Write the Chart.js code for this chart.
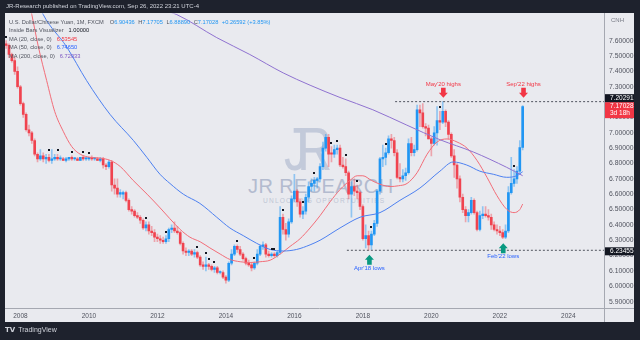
<!DOCTYPE html>
<html>
<head>
<meta charset="utf-8">
<script src="https://cdn.jsdelivr.net/npm/chart.js@4.4.1/dist/chart.umd.min.js"></script>
<style>
 html,body{margin:0;padding:0;width:640px;height:340px;overflow:hidden;background:#1e222d;font-family:"Liberation Sans",Arial,sans-serif;}
 #panel{position:absolute;left:5px;top:13px;width:629px;height:309px;background:#e9eaef;}
 .wm{position:absolute;white-space:nowrap;}
 #wmLogo{left:284px;top:113px;font:62px "Liberation Sans",sans-serif;color:#c3cada;letter-spacing:-14px;transform:scaleX(0.78);transform-origin:left top;}
 #wmName{left:248px;top:175px;font:20px "Liberation Sans",sans-serif;color:#b3bbcf;letter-spacing:0.4px;}
 #wmTag{left:263px;top:197px;font:6.6px "Liberation Sans",sans-serif;color:#c0c6d5;letter-spacing:1.2px;}
 #c{position:absolute;left:0;top:0;}
 #hdr{position:absolute;left:6px;top:3px;font-size:6px;color:#d1d4dc;white-space:nowrap;}
 #legend{position:absolute;left:9px;top:17.5px;font-size:5.7px;line-height:8.5px;color:#50535e;white-space:nowrap;}
 #legend .v{margin-left:3.5px;}
 #ftr{position:absolute;left:5px;top:326px;font-size:7px;color:#d1d4dc;white-space:nowrap;}
 #ftr b{font-family:"DejaVu Sans",sans-serif;font-size:7px;margin-right:3px;}
</style>
</head>
<body>
<div id="panel"></div>
<div class="wm" id="wmLogo">JR</div>
<div class="wm" id="wmName">JR RESEARCH</div>
<div class="wm" id="wmTag">UNLOCKING OPPORTUNITIES</div>
<canvas id="c" width="640" height="340"></canvas>
<div id="hdr">JR-Research published on TradingView.com, Sep 26, 2022 23:21 UTC-4</div>
<div id="legend"></div>
<div id="ftr"><b>TV</b>TradingView</div>
<script>
// ---------- DATA ----------
const firstMonthIndex = -5; // Aug 2007 (0 = Jan 2008)
const opens = [
 7.58,7.57,7.51,7.47,7.40,
 7.30,7.19,7.12,7.02,7.00,6.95,6.86,6.83,6.85,6.83,6.84,6.82,
 6.83,6.84,6.83,6.83,6.82,6.83,6.84,6.83,6.83,6.82,6.84,6.83,
 6.83,6.84,6.83,6.83,6.82,6.83,6.79,6.78,6.81,6.66,6.64,6.60,
 6.60,6.61,6.56,6.50,6.49,6.46,6.45,6.43,6.38,6.40,6.36,6.35,
 6.32,6.31,6.30,6.29,6.31,6.37,6.38,6.36,6.35,6.28,6.23,6.22,
 6.23,6.21,6.22,6.19,6.14,6.13,6.14,6.13,6.11,6.12,6.09,6.09,
 6.06,6.04,6.15,6.21,6.26,6.24,6.21,6.18,6.15,6.14,6.12,6.15,
 6.21,6.26,6.27,6.21,6.20,6.21,6.20,6.22,6.45,6.37,6.34,6.42,
 6.57,6.62,6.55,6.47,6.49,6.58,6.65,6.67,6.69,6.70,6.78,6.90,
 6.97,6.87,6.86,6.89,6.90,6.79,6.78,6.74,6.60,6.65,6.62,6.61,
 6.52,6.31,6.33,6.27,6.34,6.41,6.62,6.83,6.84,6.87,6.96,6.95,
 6.87,6.71,6.70,6.72,6.74,6.93,6.87,6.89,7.15,7.13,7.04,7.03,
 6.96,6.93,7.00,7.08,7.07,7.14,7.07,6.99,6.85,6.79,6.70,6.58,
 6.50,6.46,6.48,6.56,6.48,6.37,6.46,6.47,6.46,6.45,6.40,6.37,
 6.36,6.35,6.32,6.36,6.61,6.67,6.70,6.75,6.90436
];
const highs = [
 7.60,7.58,7.52,7.49,7.43,
 7.31,7.20,7.13,7.05,7.01,6.96,6.87,6.89,6.87,6.86,6.86,6.89,
 6.86,6.86,6.85,6.84,6.84,6.84,6.85,6.84,6.84,6.84,6.85,6.84,
 6.84,6.85,6.84,6.84,6.84,6.84,6.80,6.82,6.82,6.70,6.70,6.63,
 6.62,6.62,6.57,6.52,6.50,6.48,6.46,6.44,6.42,6.42,6.39,6.37,
 6.34,6.33,6.32,6.33,6.38,6.40,6.42,6.39,6.36,6.29,6.25,6.24,
 6.24,6.24,6.23,6.20,6.16,6.19,6.15,6.14,6.13,6.13,6.10,6.10,
 6.07,6.16,6.24,6.27,6.27,6.26,6.22,6.19,6.17,6.15,6.16,6.24,
 6.27,6.29,6.28,6.23,6.22,6.22,6.23,6.52,6.47,6.41,6.44,6.59,
 6.73,6.63,6.57,6.52,6.60,6.68,6.70,6.71,6.71,6.80,6.94,6.99,
 6.99,6.91,6.92,6.92,6.92,6.84,6.83,6.75,6.68,6.70,6.66,6.62,
 6.53,6.40,6.36,6.36,6.43,6.63,6.84,6.92,6.90,6.98,6.99,6.97,
 6.89,6.80,6.76,6.77,6.96,6.97,6.92,7.18,7.18,7.19,7.06,7.05,
 6.97,7.04,7.17,7.14,7.20291,7.15,7.08,7.00,6.89,6.80,6.72,6.60,
 6.52,6.50,6.58,6.57,6.49,6.49,6.52,6.52,6.50,6.47,6.42,6.40,
 6.39,6.37,6.40,6.65,6.84,6.76,6.78,6.95,7.17705
];
const lows = [
 7.55,7.49,7.46,7.38,7.29,
 7.18,7.10,7.01,6.98,6.93,6.85,6.81,6.82,6.81,6.80,6.81,6.80,
 6.82,6.82,6.82,6.82,6.81,6.82,6.82,6.82,6.82,6.82,6.82,6.82,
 6.82,6.82,6.82,6.82,6.81,6.77,6.76,6.77,6.62,6.60,6.58,6.58,
 6.57,6.55,6.49,6.47,6.45,6.44,6.41,6.37,6.36,6.34,6.33,6.29,
 6.29,6.28,6.28,6.28,6.29,6.35,6.35,6.34,6.27,6.21,6.20,6.20,
 6.20,6.19,6.18,6.13,6.11,6.10,6.11,6.10,6.09,6.08,6.08,6.05,
 6.02,6.03,6.14,6.20,6.22,6.20,6.17,6.14,6.13,6.10,6.11,6.14,
 6.20,6.24,6.19,6.19,6.19,6.19,6.19,6.21,6.34,6.30,6.32,6.41,
 6.55,6.52,6.45,6.44,6.47,6.55,6.62,6.62,6.64,6.68,6.76,6.88,
 6.78,6.81,6.84,6.86,6.78,6.77,6.72,6.57,6.45,6.59,6.57,6.50,
 6.30,6.25,6.23455,6.24,6.33,6.39,6.60,6.78,6.79,6.86,6.90,6.85,
 6.70,6.68,6.68,6.69,6.73,6.85,6.85,6.88,7.04,7.03,6.98,6.96,
 6.85,6.92,6.92,7.02,7.06,7.04,6.96,6.84,6.71,6.64,6.55,6.48,
 6.42,6.42,6.47,6.47,6.36,6.36,6.44,6.45,6.43,6.37,6.36,6.34,
 6.33,6.31,6.31,6.35,6.60,6.65,6.67,6.73,6.88890
];
const closes = [
 7.57,7.51,7.47,7.40,7.30,
 7.19,7.12,7.02,7.00,6.95,6.86,6.83,6.85,6.83,6.84,6.82,6.83,
 6.84,6.83,6.83,6.82,6.83,6.84,6.83,6.83,6.82,6.84,6.83,6.83,
 6.84,6.83,6.83,6.82,6.83,6.79,6.78,6.81,6.66,6.64,6.60,6.61,
 6.61,6.56,6.50,6.49,6.46,6.45,6.43,6.38,6.40,6.36,6.35,6.32,
 6.31,6.30,6.29,6.31,6.37,6.38,6.36,6.35,6.28,6.23,6.22,6.23,
 6.21,6.22,6.19,6.14,6.13,6.14,6.13,6.11,6.12,6.09,6.09,6.06,
 6.04,6.15,6.21,6.26,6.24,6.21,6.18,6.15,6.14,6.12,6.15,6.21,
 6.26,6.27,6.21,6.20,6.21,6.20,6.22,6.45,6.37,6.34,6.42,6.57,
 6.62,6.55,6.47,6.49,6.58,6.65,6.67,6.69,6.70,6.78,6.90,6.97,
 6.86,6.86,6.89,6.90,6.79,6.78,6.74,6.60,6.65,6.62,6.61,6.52,
 6.31,6.33,6.27,6.34,6.41,6.62,6.83,6.84,6.87,6.96,6.95,6.87,
 6.71,6.70,6.72,6.74,6.93,6.87,6.89,7.15,7.13,7.04,7.03,6.96,
 6.93,7.00,7.08,7.07,7.14,7.07,6.99,6.85,6.79,6.70,6.58,6.50,
 6.46,6.48,6.56,6.48,6.37,6.46,6.47,6.46,6.45,6.40,6.37,6.36,
 6.35,6.32,6.36,6.61,6.67,6.70,6.75,6.90436,7.17028
];
// moving averages (month index, value)
const ma20Months = [3,4,6.3,9.2,12,15,18,21,24.5,28,31.5,35,39.5,44.4,49,52.4,56,59.4,63,66.4,70,73.4,77,80.5,84,87.5,91,94.5,98,101.5,105,108.5,112,115.5,118,120,123,126,129.5,132.5,135.5,139,142.5,146,149.5,153,156.5,160,163.5,167,170.5,173,175,176];
const ma20Values = [7.86,7.77,7.56,7.34,7.14,7.01,6.91,6.86,6.84,6.835,6.82,6.78,6.69,6.60,6.51,6.44,6.37,6.32,6.29,6.25,6.21,6.175,6.16,6.155,6.16,6.17,6.21,6.26,6.31,6.38,6.46,6.55,6.63,6.69,6.72,6.72,6.69,6.665,6.65,6.655,6.67,6.74,6.86,6.94,6.96,6.94,6.90,6.82,6.71,6.59,6.50,6.48,6.50,6.53545];
const ma50Months = [6,8,16.2,23.2,31.4,39.6,44.3,48.9,52.4,57.1,62.9,68.8,73.4,78.1,82.8,87.5,92.1,96.8,101.5,105,112,119,126,133,140,147,151.7,156.4,161,165.7,170.4,173.9,176];
const ma50Values = [7.86,7.77,7.56,7.34,7.12,6.95,6.84,6.73,6.67,6.60,6.54,6.45,6.38,6.33,6.28,6.24,6.23,6.24,6.27,6.30,6.38,6.45,6.48,6.56,6.64,6.75,6.81,6.79,6.75,6.73,6.71,6.72,6.7465];
const ma200Months = [50,54.8,68.8,80.4,92.1,101.5,112,123.5,135.4,147,158.7,170.4,176];
const ma200Values = [7.80,7.77,7.62,7.51,7.39,7.31,7.23,7.15,7.05,6.955,6.875,6.775,6.72033];
const insideBarMonths = [-5,10,13,18,22,24,44,51,62,65,66,68,76,82,88,89,92,99,103,109,111,114,118,123,128,147,173];
const highLevel = 7.20291, highLevelStart = 131.3;
const lowLevel = 6.23455, lowLevelStart = 114.4;
const annotations = [
  {m:148.2, price:7.20291, dir:'down', text:"May'20 highs"},
  {m:176.3, price:7.20291, dir:'down', text:"Sep'22 highs"},
  {m:122.3, price:6.23455, dir:'up', text:"Apr'18 lows"},
  {m:169.2, price:6.31, dir:'up', text:"Feb'22 lows"}
];
const yearTickLabels = [2008,2010,2012,2014,2016,2018,2020,2022,2024];
const priceTicks = [5.9,6.0,6.1,6.2,6.3,6.4,6.5,6.6,6.7,6.8,6.9,7.0,7.1,7.2,7.3,7.4,7.5,7.6];
const countdown = "3d 18h";
const symbolTitle = "U.S. Dollar/Chinese Yuan, 1M, FXCM";
const currencyLabel = "CNH";

// ---------- STYLE ----------
const upColor = '#2196f3', downColor = '#f0434f';
const upWick = 'rgba(33,150,243,0.45)', downWick = 'rgba(240,67,79,0.42)';
const xMin = -5.4, xMax = 204.5, yMin = 5.8586, yMax = 7.7772;

const last = closes.length - 1;
const isUp = i => closes[i] >= opens[i];
const months = closes.map((_, i) => i + firstMonthIndex);
const pts = (ms, vs) => ms.map((m, i) => ({x: m, y: vs[i]}));

// legend
const chg = closes[last] - closes[last - 1];
const pct = chg / closes[last - 1] * 100;
const B = s => '<span style="color:#2196f3">' + s + '</span>';
document.getElementById('legend').innerHTML =
  '<div>' + symbolTitle + '<span style="margin-left:6px">O' + B(opens[last].toFixed(5)) + '</span>' +
  '<span class="v">H' + B(highs[last].toFixed(5)) + '</span>' +
  '<span class="v">L' + B(lows[last].toFixed(5)) + '</span>' +
  '<span class="v">C' + B(closes[last].toFixed(5)) + '</span>' +
  '<span class="v">' + B('+' + chg.toFixed(5) + ' (+' + pct.toFixed(2) + '%)') + '</span></div>' +
  '<div>Inside Bars Visualizer<span style="margin-left:5px;color:#131722">1.00000</span></div>' +
  '<div>MA (20, close, 0)<span style="margin-left:5px;color:#f23645">' + ma20Values[ma20Values.length-1].toFixed(5) + '</span></div>' +
  '<div>MA (50, close, 0)<span style="margin-left:5px;color:#2962ff">' + ma50Values[ma50Values.length-1].toFixed(5) + '</span></div>' +
  '<div>MA (200, close, 0)<span style="margin-left:5px;color:#7e57c2">' + ma200Values[ma200Values.length-1].toFixed(5) + '</span></div>';

const overlay = {
  id: 'overlay',
  afterDraw(chart) {
    const {ctx, chartArea: a, scales: {x, y}} = chart;
    ctx.save();
    // separators
    ctx.strokeStyle = '#a5a8b1'; ctx.lineWidth = 1;
    ctx.beginPath();
    ctx.moveTo(Math.round(a.right) + 0.5, 13); ctx.lineTo(Math.round(a.right) + 0.5, 322);
    ctx.moveTo(5, Math.round(a.bottom) + 0.5); ctx.lineTo(634, Math.round(a.bottom) + 0.5);
    ctx.stroke();
    // inside bar dots
    ctx.fillStyle = '#131722';
    insideBarMonths.forEach(m => {
      const i = m - firstMonthIndex;
      const px = x.getPixelForValue(m), py = y.getPixelForValue(highs[i]) - 4;
      ctx.fillRect(Math.round(px) - 1, Math.round(py) - 1, 2, 2);
    });
    // annotations
    ctx.font = '6px "Liberation Sans", Arial, sans-serif';
    ctx.textAlign = 'center'; ctx.textBaseline = 'middle';
    annotations.forEach(an => {
      const px = x.getPixelForValue(an.m);
      const down = an.dir === 'down';
      const s = down ? -1 : 1;
      const tip = y.getPixelForValue(an.price) + (down ? -4 : 4.5);
      ctx.fillStyle = down ? '#f23645' : '#089981';
      ctx.beginPath();
      ctx.moveTo(px, tip);
      ctx.lineTo(px + 4.5, tip + s * 5);
      ctx.lineTo(px + 2.3, tip + s * 5);
      ctx.lineTo(px + 2.3, tip + s * 10);
      ctx.lineTo(px - 2.3, tip + s * 10);
      ctx.lineTo(px - 2.3, tip + s * 5);
      ctx.lineTo(px - 4.5, tip + s * 5);
      ctx.closePath(); ctx.fill();
      ctx.fillStyle = down ? '#f23645' : '#2962ff';
      ctx.fillText(an.text, px, tip + s * 13.5);
    });
    // price tags
    const L = Math.round(a.right) + 1, W = 634 - L;
    const pClose = y.getPixelForValue(closes[last]);
    const redTop = pClose - 4.5;
    ctx.fillStyle = '#f23645'; ctx.fillRect(L, redTop, W, 16);
    ctx.fillStyle = '#131722'; ctx.fillRect(L, redTop - 8, W, 8);
    const pLow = y.getPixelForValue(lowLevel);
    ctx.fillRect(L, pLow - 3, W, 8);
    ctx.font = '6.5px "Liberation Sans", Arial, sans-serif';
    ctx.textAlign = 'left'; ctx.fillStyle = '#ffffff';
    ctx.fillText(highLevel.toFixed(5), L + 5, redTop - 4);
    ctx.fillText(closes[last].toFixed(5), L + 5, redTop + 4.3);
    ctx.fillText(countdown, L + 5, redTop + 11.5);
    ctx.fillText(lowLevel.toFixed(5), L + 5, pLow + 1);
    ctx.fillStyle = '#787b86';
    ctx.font = '6px "Liberation Sans", Arial, sans-serif';
    ctx.fillText(currencyLabel, L + 6, 20.5);
    ctx.restore();
  }
};

new Chart(document.getElementById('c'), {
  type: 'bar',
  data: {
    datasets: [
      {type:'line', data: pts([highLevelStart, xMax], [highLevel, highLevel]), borderColor:'#50535e', borderWidth:1, borderDash:[2,2], pointRadius:0, order:0},
      {type:'line', data: pts([lowLevelStart, xMax], [lowLevel, lowLevel]), borderColor:'#50535e', borderWidth:1, borderDash:[2,2], pointRadius:0, order:0},
      {type:'line', data: pts(ma200Months, ma200Values), borderColor:'#8f72d0', borderWidth:1, pointRadius:0, cubicInterpolationMode:'monotone', order:1},
      {type:'line', data: pts(ma50Months, ma50Values), borderColor:'#4d80f0', borderWidth:1, pointRadius:0, cubicInterpolationMode:'monotone', order:1},
      {type:'line', data: pts(ma20Months, ma20Values), borderColor:'#f26d78', borderWidth:1, pointRadius:0, cubicInterpolationMode:'monotone', order:1},
      {data: months.map((m, i) => ({x: m, y: [opens[i], closes[i]]})),
       backgroundColor: c => isUp(c.dataIndex) ? upColor : downColor,
       barThickness: 2, grouped: false, minBarLength: 1, borderWidth: 0, order: 5},
      {data: months.map((m, i) => ({x: m, y: [lows[i], highs[i]]})),
       backgroundColor: c => isUp(c.dataIndex) ? upWick : downWick,
       barThickness: 1, grouped: false, borderWidth: 0, order: 6}
    ]
  },
  options: {
    responsive: false, animation: false, devicePixelRatio: 1,
    layout: {padding: {left: 5, top: 13.5, right: 6, bottom: 18}},
    plugins: {legend: {display: false}, tooltip: {enabled: false}},
    scales: {
      x: {type: 'linear', min: xMin, max: xMax, offset: false,
          grid: {display: false, drawTicks: false, tickLength: 0}, border: {display: false},
          afterBuildTicks: s => { s.ticks = yearTickLabels.map(yv => ({value: (yv - 2008) * 12})); },
          ticks: {callback: v => String(2008 + Math.round(v / 12)), font: {size: 6.5, family: 'Liberation Sans'}, color: '#50535e', padding: 4, maxRotation: 0, autoSkip: false},
          afterFit: s => { s.height = 14; }},
      y: {type: 'linear', position: 'right', min: yMin, max: yMax,
          grid: {display: false, drawTicks: false, tickLength: 0}, border: {display: false},
          afterBuildTicks: s => { s.ticks = priceTicks.map(v => ({value: v})); },
          ticks: {callback: v => Number(v).toFixed(5), font: {size: 6.8, family: 'Liberation Sans'}, color: '#50535e', padding: 5, autoSkip: false},
          afterFit: s => { s.width = 30; }}
    }
  },
  plugins: [overlay]
});
</script>
</body>
</html>
